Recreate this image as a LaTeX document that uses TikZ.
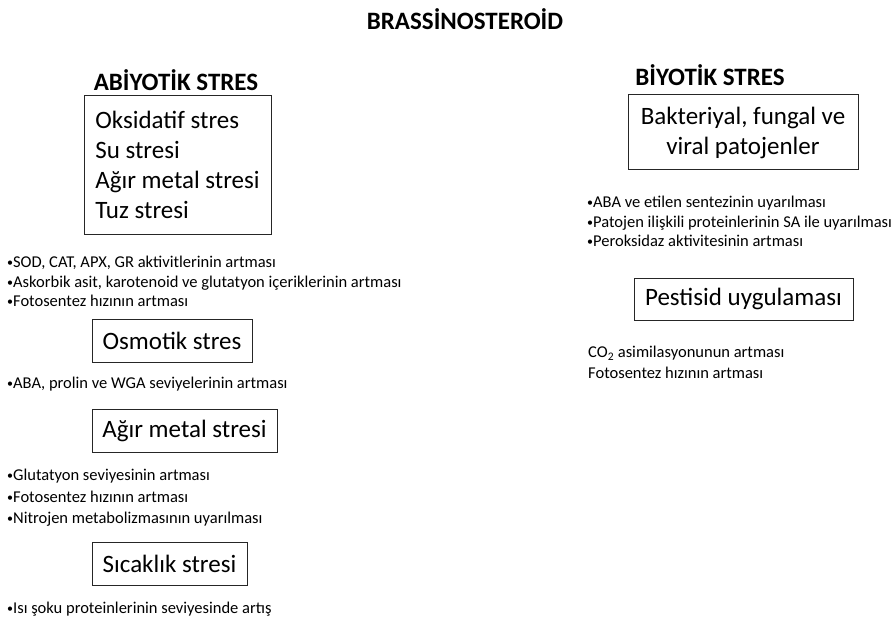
\documentclass[tikz,border=0pt]{standalone}
\usepackage{fontspec}
\setmainfont{Carlito}
\usepackage{tikz}
\usetikzlibrary{positioning}
\newcommand{\bul}{{\fontsize{12}{12}\selectfont\raisebox{0.15ex}{•}}}

\begin{document}
\begin{tikzpicture}[x=1pt, y=-1pt,
  stressbox/.style={rectangle, draw=black!85, line width=1pt, inner sep=0pt,
                    align=center, font=\fontsize{25}{30}\selectfont},
  heading/.style={inner sep=0pt, font=\fontsize{25}{28}\selectfont\bfseries},
  effect/.style={anchor=north west, inner sep=0pt, align=left,
                 font=\fontsize{16.5}{19.5}\selectfont},
]
  \useasboundingbox (0,0) rectangle (895,623);

  \node[heading] (title) at (465,19) {BRASSİNOSTEROİD};

  % abiyotik
  \node[heading] (abio) at (176,80) {ABİYOTİK STRES};
  \node[stressbox, align=left, minimum width=187, minimum height=138] (abiobox) at (177.5,165)
    {Oksidatif stres\\Su stresi\\Ağır metal stresi\\Tuz stresi};
  \node[effect] (oksid) at (7,256)
    {\bul SOD, CAT, APX, GR aktivitlerinin artması\\
     \bul Askorbik asit, karotenoid ve glutatyon içeriklerinin artması\\
     \bul Fotosentez hızının artması};

  \node[stressbox, minimum width=160, minimum height=43] (osmo) at (172,340.5) {Osmotik stres};
  \node[effect] (osmoeff) at (7,377) {\bul ABA, prolin ve WGA seviyelerinin artması};

  \node[stressbox, minimum width=185, minimum height=43] (metal) at (184.5,430.5) {Ağır metal stresi};
  \node[effect, font=\fontsize{16.5}{21.5}\selectfont] (metaleff) at (7,469)
    {\bul Glutatyon seviyesinin artması\\
     \bul Fotosentez hızının artması\\
     \bul Nitrojen metabolizmasının uyarılması};

  \node[stressbox, minimum width=155, minimum height=43] (heat) at (169.5,563.5) {Sıcaklık stresi};
  \node[effect] (heateff) at (7,602) {\bul Isı şoku proteinlerinin seviyesinde artış};

  % biyotik
  \node[heading] (bio) at (710,75) {BİYOTİK STRES};
  \node[stressbox, minimum width=230, minimum height=75] (biobox) at (743,132.5)
    {Bakteriyal, fungal ve\\viral patojenler};
  \node[effect] (bioeff) at (587,196)
    {\bul ABA ve etilen sentezinin uyarılması\\
     \bul Patojen ilişkili proteinlerinin SA ile uyarılması\\
     \bul Peroksidaz aktivitesinin artması};

  \node[stressbox, minimum width=219, minimum height=42] (pest) at (743.5,299) {Pestisid uygulaması};
  \node[effect, font=\fontsize{16.5}{21}\selectfont] (pesteff) at (588,346)
    {CO\textsubscript{2} asimilasyonunun artması\\
     Fotosentez hızının artması};
\end{tikzpicture}
\end{document}
